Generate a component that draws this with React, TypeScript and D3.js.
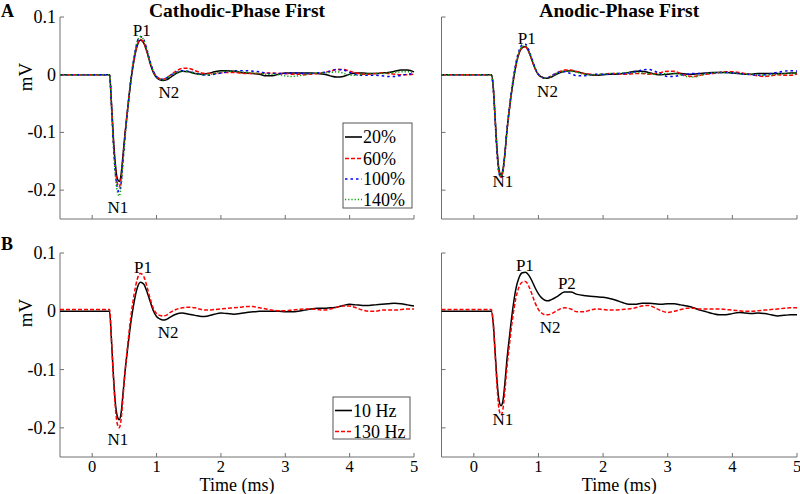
import React from "react";
import * as d3 from "d3";

// ---- data (time in ms, amplitude in mV) ----
const T = [-0.5, 0.27, 0.30, 0.33, 0.36, 0.39, 0.42, 0.45, 0.48, 0.51, 0.55, 0.60, 0.65, 0.70, 0.75, 0.80, 0.85, 0.90, 0.95, 1.00, 1.05, 1.10, 1.15, 1.20, 1.30, 1.40, 1.50,
  1.6, 1.7, 1.8, 1.9, 2.0, 2.1, 2.2, 2.3, 2.4, 2.5, 2.6, 2.7, 2.8, 2.9, 3.0, 3.1, 3.2, 3.3, 3.4, 3.5, 3.6, 3.7, 3.8, 3.9, 4.0, 4.1, 4.2, 4.3, 4.4, 4.5, 4.6, 4.7, 4.8, 4.9, 5.0];

// Cathodic-phase first, stimulus intensity
const cath20 = [0, 0, -0.05, -0.11, -0.155, -0.18, -0.185, -0.172, -0.138, -0.102, -0.06, -0.012, 0.025, 0.05, 0.06, 0.055, 0.04, 0.02, 0.004, -0.005, -0.009, -0.01, -0.009, -0.006, 0.002, 0.006, 0.005,
  0.002, 0.001, 0.002, 0.005, 0.007, 0.007, 0.006, 0.004, 0.003, 0.002, 0.001, -0.002, -0.002, 0.001, 0.003, 0.003, 0.003, 0.003, 0.003, 0.002, 0.001, -0.002, -0.004, -0.003, 0.001, 0.003, 0.003, 0.002, 0.002, 0.003, 0.004, 0.006, 0.008, 0.008, 0.005];
const cath60 = [0, 0, -0.052, -0.115, -0.162, -0.188, -0.194, -0.18, -0.142, -0.104, -0.06, -0.01, 0.027, 0.052, 0.061, 0.056, 0.04, 0.021, 0.006, -0.003, -0.007, -0.008, -0.006, -0.002, 0.006, 0.011, 0.011,
  0.007, 0.003, 0.002, 0.002, 0.003, 0.004, 0.004, 0.003, 0.002, 0.002, 0.002, 0.003, 0.003, 0.002, 0.002, 0.001, 0.001, 0.0, 0.001, 0.002, 0.004, 0.006, 0.009, 0.009, 0.006, 0.003, 0.001, 0.001, 0.002, 0.003, 0.002, 0.001, 0.0, 0.0, 0.001];
const cath100 = [0, 0, -0.055, -0.12, -0.17, -0.196, -0.203, -0.187, -0.147, -0.107, -0.062, -0.01, 0.03, 0.057, 0.066, 0.061, 0.044, 0.023, 0.006, -0.003, -0.007, -0.008, -0.006, -0.002, 0.004, 0.007, 0.006,
  0.003, 0.0, -0.001, 0.001, 0.003, 0.005, 0.007, 0.007, 0.007, 0.006, 0.005, 0.003, 0.002, 0.002, 0.002, 0.003, 0.003, 0.002, 0.002, 0.003, 0.004, 0.006, 0.009, 0.008, 0.004, 0.0, -0.001, -0.001, -0.001, -0.002, -0.003, -0.003, -0.001, 0.001, 0.002];
const cath140 = [0, 0, -0.056, -0.122, -0.174, -0.202, -0.21, -0.192, -0.15, -0.109, -0.063, -0.01, 0.03, 0.057, 0.066, 0.06, 0.043, 0.022, 0.005, -0.004, -0.008, -0.009, -0.007, -0.003, 0.003, 0.006, 0.005,
  0.002, 0.0, 0.0, 0.002, 0.005, 0.006, 0.006, 0.005, 0.004, 0.003, 0.002, 0.001, 0.001, 0.0, -0.002, -0.003, -0.002, 0.0, 0.002, 0.003, 0.003, 0.004, 0.005, 0.003, -0.001, -0.001, 0.001, 0.002, 0.002, 0.002, 0.003, 0.004, 0.005, 0.005, 0.004];

// Anodic-phase first, stimulus intensity
const anod20 = [0, 0, -0.02, -0.075, -0.13, -0.164, -0.173, -0.165, -0.137, -0.1, -0.06, -0.018, 0.015, 0.037, 0.047, 0.049, 0.04, 0.025, 0.01, 0.0, -0.004, -0.006, -0.006, -0.004, 0.002, 0.006, 0.007,
  0.005, 0.002, 0.0, -0.001, 0.0, 0.001, 0.001, 0.002, 0.004, 0.006, 0.006, 0.004, 0.001, 0.0, 0.001, 0.002, 0.002, 0.001, 0.001, 0.002, 0.003, 0.004, 0.004, 0.004, 0.003, 0.002, 0.001, 0.001, 0.002, 0.002, 0.002, 0.002, 0.002, 0.003, 0.003];
const anod60 = [0, 0, -0.022, -0.078, -0.135, -0.17, -0.178, -0.168, -0.139, -0.1, -0.06, -0.018, 0.015, 0.037, 0.047, 0.048, 0.04, 0.025, 0.01, 0.0, -0.004, -0.006, -0.005, -0.002, 0.004, 0.008, 0.008,
  0.005, 0.002, 0.001, 0.0, 0.001, 0.002, 0.002, 0.001, 0.001, 0.002, 0.002, 0.001, 0.002, 0.004, 0.006, 0.006, 0.002, -0.002, -0.003, -0.001, 0.001, 0.002, 0.004, 0.005, 0.005, 0.004, 0.002, 0.0, -0.002, -0.003, -0.002, 0.0, -0.001, -0.001, 0.001];
const anod100 = [0, 0, -0.022, -0.08, -0.137, -0.171, -0.178, -0.168, -0.138, -0.098, -0.057, -0.014, 0.02, 0.042, 0.052, 0.053, 0.043, 0.027, 0.011, 0.001, -0.004, -0.006, -0.005, -0.002, 0.004, 0.005, 0.002,
  -0.002, -0.002, 0.0, 0.001, 0.001, 0.001, 0.002, 0.002, 0.003, 0.005, 0.008, 0.009, 0.006, 0.001, -0.003, -0.003, -0.001, 0.001, 0.002, 0.002, 0.002, 0.003, 0.004, 0.004, 0.003, 0.002, 0.001, 0.0, -0.001, 0.0, 0.002, 0.004, 0.006, 0.007, 0.006];
const anod140 = [0, 0, -0.021, -0.077, -0.133, -0.168, -0.176, -0.167, -0.138, -0.1, -0.059, -0.016, 0.017, 0.039, 0.049, 0.05, 0.041, 0.026, 0.011, 0.001, -0.004, -0.006, -0.005, -0.003, 0.003, 0.006, 0.006,
  0.004, 0.001, 0.0, 0.0, 0.001, 0.002, 0.002, 0.003, 0.004, 0.004, 0.003, 0.002, 0.001, 0.001, 0.002, 0.002, 0.0, -0.003, -0.004, -0.001, 0.002, 0.003, 0.004, 0.004, 0.003, 0.002, 0.001, 0.001, 0.0, -0.001, 0.0, 0.001, 0.002, 0.002, 0.002];

// Stimulation frequency
const cath10Hz = [0, 0, -0.05, -0.11, -0.157, -0.18, -0.186, -0.174, -0.14, -0.104, -0.065, -0.02, 0.015, 0.04, 0.05, 0.047, 0.034, 0.017, 0.001, -0.009, -0.013, -0.015, -0.014, -0.011, -0.005, -0.003, -0.005,
  -0.007, -0.009, -0.008, -0.005, -0.003, -0.004, -0.005, -0.004, -0.002, -0.001, 0.0, 0.0, 0.0, 0.0, -0.001, -0.001, 0.0, 0.002, 0.004, 0.005, 0.005, 0.006, 0.007, 0.01, 0.012, 0.011, 0.01, 0.01, 0.011, 0.012, 0.013, 0.014, 0.013, 0.011, 0.009];
const cath130Hz = [0.003, 0.003, -0.05, -0.115, -0.165, -0.193, -0.2, -0.185, -0.146, -0.105, -0.06, -0.01, 0.028, 0.055, 0.065, 0.06, 0.043, 0.022, 0.005, -0.004, -0.007, -0.008, -0.007, -0.003, 0.003, 0.006, 0.007,
  0.006, 0.003, 0.002, 0.003, 0.004, 0.005, 0.006, 0.007, 0.008, 0.008, 0.006, 0.004, 0.002, 0.001, 0.001, 0.002, 0.003, 0.004, 0.004, 0.003, 0.002, 0.004, 0.007, 0.009, 0.009, 0.006, 0.002, 0.0, 0.0, 0.002, 0.002, 0.002, 0.003, 0.004, 0.004];
const anod10Hz = [0, 0, -0.02, -0.07, -0.12, -0.153, -0.162, -0.154, -0.124, -0.086, -0.045, 0.002, 0.038, 0.058, 0.066, 0.067, 0.062, 0.052, 0.04, 0.03, 0.023, 0.019, 0.018, 0.02, 0.026, 0.033, 0.033,
  0.029, 0.027, 0.026, 0.025, 0.024, 0.022, 0.019, 0.015, 0.012, 0.012, 0.014, 0.014, 0.013, 0.012, 0.013, 0.013, 0.011, 0.009, 0.006, 0.002, -0.001, -0.004, -0.006, -0.006, -0.004, -0.002, -0.003, -0.004, -0.003, -0.004, -0.006, -0.008, -0.007, -0.006, -0.006];
const anod130Hz = [0.003, 0.003, -0.02, -0.075, -0.13, -0.168, -0.178, -0.168, -0.137, -0.099, -0.058, -0.012, 0.022, 0.042, 0.05, 0.051, 0.043, 0.029, 0.014, 0.003, -0.003, -0.006, -0.006, -0.004, 0.002, 0.006, 0.004,
  -0.001, -0.001, 0.002, 0.004, 0.003, 0.002, 0.002, 0.003, 0.004, 0.006, 0.009, 0.01, 0.006, 0.001, -0.002, 0.0, 0.003, 0.005, 0.005, 0.004, 0.004, 0.004, 0.004, 0.003, 0.002, 0.001, 0.0, 0.0, 0.001, 0.002, 0.003, 0.004, 0.005, 0.006, 0.006];

const xTicks = [0, 1, 2, 3, 4, 5];
const yTicks = [-0.2, -0.1, 0, 0.1];
const xDomain = [-0.5, 5];
const yDomain = [-0.25, 0.1];
const intensityLabels = ["20%", "60%", "100%", "140%"];
const frequencyLabels = ["10 Hz", "130 Hz"];
const titles = ["Cathodic-Phase First", "Anodic-Phase First"];

// annotations: [text, time, mV] (text baseline anchored at point)
const annotTL: [string, number, number][] = [["P1", 0.77, 0.067], ["N2", 1.19, -0.040], ["N1", 0.40, -0.240]];
const annotTR: [string, number, number][] = [["P1", 0.82, 0.053], ["N2", 1.14, -0.039], ["N1", 0.45, -0.195]];
const annotBL: [string, number, number][] = [["P1", 0.79, 0.066], ["N2", 1.18, -0.046], ["N1", 0.40, -0.229]];
const annotBR: [string, number, number][] = [["P1", 0.79, 0.069], ["P2", 1.44, 0.038], ["N2", 1.18, -0.037], ["N1", 0.45, -0.195]];

const FONT = "'Liberation Serif', 'Times New Roman', serif";
const AX = "#707070";

type Style = { color: string; dash: string | null };
const intensityStyles: Style[] = [
  { color: "#000000", dash: null },
  { color: "#ff0000", dash: "4,2" },
  { color: "#0000ff", dash: "2.5,3" },
  { color: "#00a000", dash: "1.2,2" },
];
const freqStyles: Style[] = [
  { color: "#000000", dash: null },
  { color: "#ff0000", dash: "4,2" },
];

type PanelProps = {
  x0: number; x1: number; y0: number; y1: number;
  series: number[][]; styles: Style[];
  showYLabels: boolean; showXLabels: boolean;
  annots: [string, number, number][];
  legend?: { labels: string[]; box: [number, number, number, number]; rowY: number[] };
};

function Panel(p: PanelProps) {
  const x = d3.scaleLinear().domain(xDomain).range([p.x0, p.x1]);
  const y = d3.scaleLinear().domain(yDomain).range([p.y1, p.y0]);
  const line = d3.line<number>().x((_, i) => x(T[i])).y((d) => y(d)).curve(d3.curveMonotoneX);
  return (
    <g>
      <line x1={p.x0} y1={p.y0} x2={p.x0} y2={p.y1} stroke={AX} strokeWidth={1} />
      <line x1={p.x0} y1={p.y1} x2={p.x1} y2={p.y1} stroke={AX} strokeWidth={1} />
      {xTicks.map((t) => (
        <g key={"xt" + t}>
          <line x1={x(t)} x2={x(t)} y1={p.y1} y2={p.y1 - 4} stroke={AX} />
          {p.showXLabels && (
            <text x={x(t)} y={p.y1 + 15} textAnchor="middle" fontSize={16.5} fontFamily={FONT}>{t}</text>
          )}
        </g>
      ))}
      {yTicks.map((v) => (
        <g key={"yt" + v}>
          <line x1={p.x0} x2={p.x0 + 4} y1={y(v)} y2={y(v)} stroke={AX} />
          {p.showYLabels && (
            <text x={p.x0 - 4} y={y(v) + 6} textAnchor="end" fontSize={18} fontFamily={FONT}>{v === 0 ? "0" : String(v)}</text>
          )}
        </g>
      ))}
      {p.series.map((s, i) => (
        <path key={"s" + i} d={line(s) || ""} fill="none" stroke={p.styles[i].color}
          strokeWidth={1.5} strokeDasharray={p.styles[i].dash || undefined} />
      ))}
      {p.annots.map(([txt, t, v]) => (
        <text key={txt} x={x(t)} y={y(v)} textAnchor="middle" fontSize={17} fontFamily={FONT}>{txt}</text>
      ))}
      {p.legend && (
        <g>
          <rect x={p.legend.box[0]} y={p.legend.box[1]} width={p.legend.box[2]} height={p.legend.box[3]}
            fill="#fff" stroke="#555" strokeWidth={1} />
          {p.legend.labels.map((lab, i) => (
            <g key={lab}>
              <line x1={p.legend!.box[0] + 2} x2={p.legend!.box[0] + 19} y1={p.legend!.rowY[i]} y2={p.legend!.rowY[i]}
                stroke={p.styles[i].color} strokeWidth={1.6} strokeDasharray={p.styles[i].dash || undefined} />
              <text x={p.legend!.box[0] + 20} y={p.legend!.rowY[i] + 6} fontSize={18} fontFamily={FONT}>{lab}</text>
            </g>
          ))}
        </g>
      )}
    </g>
  );
}

export default function App() {
  const topY: [number, number] = [17, 219];
  const botY: [number, number] = [253, 457];
  const L: [number, number] = [60, 414];
  const R: [number, number] = [441.5, 797];
  return (
    <svg width={800} height={494} style={{ position: "absolute", left: 0, top: 0, display: "block", background: "#fff" }}
      fontFamily={FONT}>
      <rect x={0} y={0} width={800} height={494} fill="#fff" />
      <text x={1} y={17} fontSize={18} fontWeight="bold">A</text>
      <text x={1} y={250} fontSize={18} fontWeight="bold">B</text>
      <text x={(L[0] + L[1]) / 2} y={17} textAnchor="middle" fontSize={19.5} fontWeight="bold">{titles[0]}</text>
      <text x={(R[0] + R[1]) / 2} y={17} textAnchor="middle" fontSize={19.5} fontWeight="bold">{titles[1]}</text>
      <text transform="translate(32,77) rotate(-90)" textAnchor="middle" fontSize={19}>mV</text>
      <text transform="translate(32,313) rotate(-90)" textAnchor="middle" fontSize={19}>mV</text>
      <text x={(L[0] + L[1]) / 2} y={491} textAnchor="middle" fontSize={18}>Time (ms)</text>
      <text x={(R[0] + R[1]) / 2} y={491} textAnchor="middle" fontSize={18}>Time (ms)</text>

      <Panel x0={L[0]} x1={L[1]} y0={topY[0]} y1={topY[1]}
        series={[cath20, cath60, cath100, cath140]} styles={intensityStyles}
        showYLabels={true} showXLabels={false} annots={annotTL}
        legend={{ labels: intensityLabels, box: [343, 123, 69, 85], rowY: [137, 158.5, 179, 199.5] }} />
      <Panel x0={R[0]} x1={R[1]} y0={topY[0]} y1={topY[1]}
        series={[anod20, anod60, anod100, anod140]} styles={intensityStyles}
        showYLabels={false} showXLabels={false} annots={annotTR} />
      <Panel x0={L[0]} x1={L[1]} y0={botY[0]} y1={botY[1]}
        series={[cath10Hz, cath130Hz]} styles={freqStyles}
        showYLabels={true} showXLabels={true} annots={annotBL}
        legend={{ labels: frequencyLabels, box: [333, 397, 77, 42], rowY: [410.5, 431.5] }} />
      <Panel x0={R[0]} x1={R[1]} y0={botY[0]} y1={botY[1]}
        series={[anod10Hz, anod130Hz]} styles={freqStyles}
        showYLabels={false} showXLabels={true} annots={annotBR} />
    </svg>
  );
}
